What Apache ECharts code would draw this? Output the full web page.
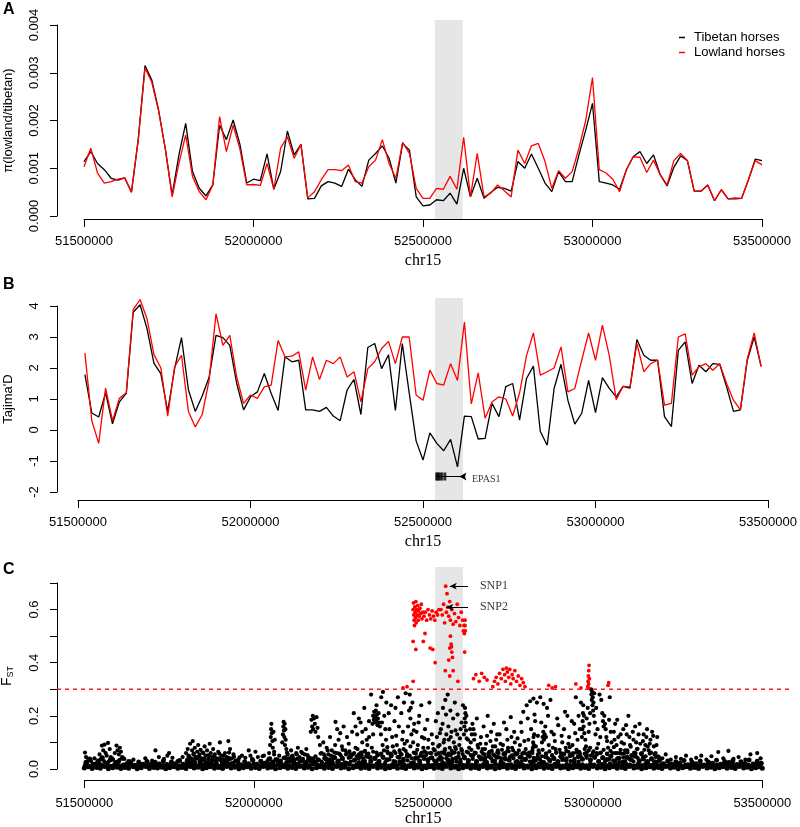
<!DOCTYPE html>
<html><head><meta charset="utf-8">
<script src="https://cdn.jsdelivr.net/npm/echarts@6/dist/echarts.min.js"></script>
<style>html,body{margin:0;padding:0;background:#fff}#c{width:800px;height:827px}</style>
</head><body><div id="c"></div>
<script>
// ---------------- DATA ----------------
const xTicks = [51500000, 52000000, 52500000, 53000000, 53500000];
const bandKb = [52535, 52617];
const bandKbB = [52535, 52616];

// Panel A: nucleotide diversity, window positions in kb
const piPosKb = [51500,51520,51540,51560,51580,51600,51620,51640,51660,51680,51700,51720,51740,51760,51780,51800,51820,51840,51860,51880,51900,51920,51940,51960,51980,52000,52020,52040,52060,52080,52100,52120,52140,52160,52180,52200,52220,52240,52260,52280,52300,52320,52340,52360,52380,52400,52420,52440,52460,52480,52500,52520,52540,52560,52580,52600,52620,52640,52660,52680,52700,52720,52740,52760,52780,52800,52820,52840,52860,52880,52900,52920,52940,52960,52980,53000,53020,53040,53060,53080,53100,53120,53140,53160,53180,53200,53220,53240,53260,53280,53300,53320,53340,53360,53380,53400,53420,53440,53460,53480,53500];
const piTibetan = [0.00114,0.00135,0.0011,0.00097,0.00079,0.00075,0.0008,0.0005,0.0016,0.00315,0.00285,0.00222,0.0014,0.00044,0.00128,0.00194,0.00093,0.00058,0.00042,0.00065,0.0019,0.0016,0.00201,0.0015,0.00069,0.00077,0.00074,0.0013,0.00056,0.00093,0.00178,0.00128,0.0015,0.00036,0.00037,0.00063,0.00072,0.00069,0.00062,0.00098,0.00076,0.00062,0.00117,0.00131,0.00147,0.00121,0.00069,0.00152,0.00138,0.0004,0.00021,0.00023,0.00034,0.00032,0.00048,0.00025,0.001,0.0004,0.00079,0.00037,0.00049,0.0006,0.00058,0.00052,0.00114,0.001,0.0013,0.001,0.00069,0.00051,0.00093,0.00072,0.00072,0.00128,0.0018,0.00236,0.00072,0.00069,0.00065,0.00056,0.00097,0.00124,0.00135,0.0011,0.00128,0.00086,0.00063,0.00102,0.00126,0.00116,0.00052,0.00052,0.00065,0.00032,0.00055,0.00036,0.00036,0.00037,0.00076,0.00119,0.00116];
const piLowland = [0.00103,0.00142,0.0009,0.00069,0.00072,0.00077,0.0008,0.0005,0.0016,0.0031,0.0028,0.0022,0.0014,0.0004,0.0011,0.0017,0.00083,0.00051,0.00034,0.00065,0.00208,0.00135,0.0019,0.0014,0.00065,0.00066,0.00064,0.0011,0.00056,0.00142,0.00166,0.00121,0.0015,0.00038,0.00051,0.00076,0.00097,0.00097,0.00095,0.00107,0.00072,0.00069,0.00103,0.00117,0.0016,0.0011,0.00079,0.00154,0.00131,0.00058,0.00037,0.00037,0.00058,0.00056,0.00083,0.00056,0.00165,0.0004,0.00131,0.0004,0.00048,0.00065,0.00053,0.0004,0.00138,0.0011,0.00147,0.00152,0.00114,0.00058,0.00095,0.00079,0.00093,0.00142,0.002,0.0029,0.00097,0.0009,0.00077,0.00051,0.00097,0.00124,0.00123,0.00091,0.00117,0.00086,0.00065,0.00116,0.00131,0.00116,0.00052,0.00052,0.00065,0.00032,0.00055,0.00036,0.00038,0.00037,0.00076,0.00116,0.00107];

// Panel B: Tajima's D
const tdPosKb = [51520,51540,51560,51580,51600,51620,51640,51660,51680,51700,51720,51740,51760,51780,51800,51820,51840,51860,51880,51900,51920,51940,51960,51980,52000,52020,52040,52060,52080,52100,52120,52140,52160,52180,52200,52220,52240,52260,52280,52300,52320,52340,52360,52380,52400,52420,52440,52460,52480,52500,52520,52540,52560,52580,52600,52620,52640,52660,52680,52700,52720,52740,52760,52780,52800,52820,52840,52860,52880,52900,52920,52940,52960,52980,53000,53020,53040,53060,53080,53100,53120,53140,53160,53180,53200,53220,53240,53260,53280,53300,53320,53340,53360,53380,53400,53420,53440,53460,53480];
const tdTibetan = [1.79,0.55,0.42,1.2,0.2,0.91,1.18,3.8,4.04,3.27,2.16,1.82,0.6,1.98,2.98,1.3,0.6,1.1,1.7,3.05,2.98,2.73,1.5,0.65,1.07,1.23,1.82,1.18,0.63,2.36,2.2,2.25,0.65,0.65,0.6,0.73,0.45,0.3,1.29,1.63,0.5,2.66,2.79,1.98,2.43,0.63,2.79,1.2,-0.35,-0.97,-0.09,-0.43,-0.67,-0.3,-1.19,0.45,0.43,-0.29,-0.27,0.86,0.43,1.4,1.5,0.32,1.66,2.06,-0.05,-0.49,1.34,2.12,0.96,0.19,0.54,1.6,0.56,1.69,1.34,1.07,1.41,1.35,2.92,2.41,2.25,2.25,0.43,0.11,2.57,2.84,1.5,2.09,1.88,2.14,2.12,1.39,0.6,0.65,2.25,3.0,2.06];
const tdLowland = [2.49,0.3,-0.43,1.35,0.3,1.02,1.2,3.88,4.21,3.59,2.44,2.01,0.45,2.04,2.41,0.6,0.1,0.5,1.6,3.75,2.73,3.05,1.71,0.86,1.13,1.02,1.39,1.45,2.89,2.36,2.38,2.52,1.29,2.36,1.63,2.25,2.14,2.36,1.71,1.88,0.91,1.98,2.2,2.63,2.86,2.14,3.0,3.0,1.13,0.96,1.93,1.5,1.45,2.14,1.6,3.48,0.84,1.84,0.38,0.9,1.07,1.0,0.45,1.2,2.4,3.13,1.77,1.88,2.0,2.68,1.23,1.34,2.25,3.13,2.25,3.38,2.4,0.98,1.41,1.39,2.79,1.88,2.14,2.25,0.8,0.86,3.0,3.1,1.77,2.04,2.14,1.93,2.14,1.5,0.96,0.65,2.3,3.13,2.04];

// EPAS1 gene model (kb)
const epasSpanKb = [52538, 52622];
const epasExonKb = [52539, 52542, 52546, 52551, 52556, 52564];
const epasArrowKb = [52622, 52606];
const epasLevel = -1.5;

// Panel C: FST per SNP  [position kb, FST x1000]
const fstBase = [[51500,4],[51511,8],[51523,2],[51536,6],[51547,3],[51560,9],[51571,1],[51584,5],[51597,7],[51608,2],[51620,6],[51631,3],[51645,8],[51656,1],[51668,5],[51681,9],[51692,2],[51705,6],[51716,4],[51729,7],[51740,1],[51752,5],[51765,8],[51776,3],[51788,6],[51800,2],[51813,9],[51824,4],[51836,7],[51849,1],[51860,5],[51871,8],[51884,3],[51897,6],[51908,2],[51920,9],[51933,4],[51944,7],[51956,1],[51969,5],[51980,8],[51992,3],[52005,6],[52016,2],[52028,9],[52041,4],[52052,7],[52064,1],[52077,5],[52088,8],[52100,3],[52113,6],[52124,2],[52136,9],[52149,4],[52160,7],[52172,1],[52185,5],[52196,8],[52208,3],[52221,6],[52232,2],[52244,9],[52257,4],[52268,7],[52280,1],[52293,5],[52304,8],[52316,3],[52329,6],[52340,2],[52352,9],[52365,4],[52376,7],[52388,1],[52401,5],[52412,8],[52424,3],[52437,6],[52448,2],[52460,9],[52473,4],[52484,7],[52496,1],[52509,5],[52520,8],[52532,3],[52545,6],[52556,2],[52568,9],[52581,4],[52592,7],[52604,1],[52617,5],[52628,8],[52640,3],[52653,6],[52664,2],[52676,9],[52689,4],[52700,7],[52712,1],[52725,5],[52736,8],[52748,3],[52761,6],[52772,2],[52784,9],[52797,4],[52808,7],[52820,1],[52833,5],[52844,8],[52856,3],[52869,6],[52880,2],[52892,9],[52905,4],[52916,7],[52928,1],[52941,5],[52952,8],[52964,3],[52977,6],[52988,2],[53000,9],[53013,4],[53024,7],[53036,1],[53049,5],[53060,8],[53072,3],[53085,6],[53096,2],[53108,9],[53121,4],[53132,7],[53144,1],[53157,5],[53168,8],[53180,3],[53193,6],[53204,2],[53216,9],[53229,4],[53240,7],[53252,1],[53265,5],[53276,8],[53288,3],[53301,6],[53312,2],[53324,9],[53337,4],[53348,7],[53360,1],[53373,5],[53384,8],[53396,3],[53409,6],[53420,2],[53432,9],[53445,4],[53456,7],[53468,1],[53481,5],[53492,8],[53500,3],
[51505,25],[51516,38],[51529,18],[51541,30],[51553,42],[51565,22],[51577,35],[51589,15],[51601,28],[51613,40],[51625,20],[51637,27],[51649,14],[51661,24],[51673,18],[51685,28],[51697,16],[51709,25],[51721,19],[51733,30],[51745,15],[51757,26],[51769,20],[51781,32],[51793,17],[51805,35],[51817,24],[51829,42],[51841,28],[51853,38],[51865,22],[51877,33],[51889,19],[51901,36],[51913,25],[51925,40],[51937,21],[51949,30],[51961,16],[51973,27],[51985,20],[51997,33],[52009,18],[52021,29],[52033,22],[52045,38],[52057,25],[52069,35],[52081,20],[52093,42],[52105,28],[52117,36],[52129,18],[52141,32],[52153,24],[52165,40],[52177,27],[52189,35],[52201,20],[52213,38],[52225,26],[52237,44],[52249,30],[52261,40],[52273,22],[52285,46],[52297,33],[52309,42],[52321,25],[52333,48],[52345,30],[52357,40],[52369,28],[52381,45],[52393,35],[52405,50],[52417,26],[52429,44],[52441,32],[52453,48],[52465,22],[52477,40],[52489,30],[52501,46],[52513,35],[52525,42],[52537,25],[52549,38],[52561,20],[52573,34],[52585,28],[52597,40],[52609,24],[52621,45],[52633,32],[52645,50],[52657,28],[52669,42],[52681,35],[52693,48],[52705,30],[52717,44],[52729,26],[52741,40],[52753,34],[52765,50],[52777,28],[52789,45],[52801,36],[52813,48],[52825,30],[52837,42],[52849,25],[52861,46],[52873,33],[52885,40],[52897,28],[52909,44],[52921,35],[52933,50],[52945,30],[52957,46],[52969,38],[52981,52],[52993,34],[53005,45],[53017,28],[53029,42],[53041,36],[53053,48],[53065,30],[53077,40],[53089,26],[53101,44],[53113,35],[53125,48],[53137,30],[53149,42],[53161,28],[53173,38],[53185,25],[53197,34],[53209,20],[53221,30],[53233,18],[53245,27],[53257,22],[53269,32],[53281,16],[53293,25],[53305,20],[53317,30],[53329,15],[53341,26],[53353,22],[53365,33],[53377,18],[53389,28],[53401,24],[53413,31],[53425,17],[53437,27],[53449,21],[53461,34],[53473,19],[53485,29],[53497,22],
[51503,14],[51514,11],[51526,17],[51533,12],[51545,19],[51556,13],[51568,16],[51579,10],[51591,18],[51602,12],[51615,15],[51627,11],[51638,17],[51650,13],[51661,10],[51674,16],[51686,12],[51697,18],[51709,11],[51721,15],[51733,13],[51744,17],[51756,10],[51768,14],[51779,12],[51791,18],[51803,15],[51814,11],[51826,19],[51838,13],[51849,16],[51861,12],[51873,18],[51884,14],[51896,11],[51908,17],[51919,13],[51931,19],[51943,12],[51954,15],[51966,10],[51978,16],[51989,13],[52001,18],[52013,11],[52024,15],[52036,14],[52048,19],[52059,12],[52071,17],[52083,13],[52094,16],[52106,11],[52118,18],[52129,14],[52141,12],[52153,17],[52164,13],[52176,19],[52188,15],[52199,11],[52211,16],[52223,13],[52234,18],[52246,12],[52258,17],[52269,14],[52281,19],[52293,11],[52304,16],[52316,13],[52328,18],[52339,15],[52351,12],[52363,19],[52374,14],[52386,17],[52398,11],[52409,16],[52421,13],[52433,19],[52444,15],[52456,12],[52468,18],[52479,14],[52491,17],[52503,11],[52514,16],[52526,13],[52538,19],[52549,14],[52561,12],[52573,18],[52584,15],[52596,11],[52608,17],[52619,13],[52631,19],[52643,14],[52654,16],[52666,12],[52678,18],[52689,15],[52701,11],[52713,17],[52724,13],[52736,19],[52748,14],[52759,16],[52771,12],[52783,18],[52794,15],[52806,11],[52818,17],[52829,13],[52841,19],[52853,14],[52864,16],[52876,12],[52888,18],[52899,15],[52911,11],[52923,17],[52934,13],[52946,19],[52958,14],[52969,16],[52981,12],[52993,18],[53004,15],[53016,11],[53028,17],[53039,13],[53051,19],[53063,14],[53074,16],[53086,12],[53098,18],[53109,15],[53121,11],[53133,17],[53144,13],[53156,19],[53168,14],[53179,16],[53191,12],[53203,17],[53214,11],[53226,15],[53238,13],[53249,16],[53261,10],[53273,14],[53284,12],[53296,17],[53308,11],[53319,15],[53331,13],[53343,16],[53354,10],[53366,14],[53378,12],[53389,17],[53401,11],[53413,15],[53424,13],[53436,16],[53448,10],[53459,14],[53471,12],[53483,17],[53494,11]];
const fstMid = [[51808,48],[51822,55],[51838,45],[51851,60],[51867,52],[51882,48],[51898,58],[51911,50],[51927,62],[51942,46],[51958,44],[51990,50],[52026,48],[52060,55],[52075,50],[52098,62],[52112,48],[52127,55],[52143,60],[52158,52],[52182,48],[52197,58],[52207,55],[52218,70],[52228,50],[52238,62],[52252,58],[52262,72],[52272,55],[52282,66],[52296,60],[52306,75],[52318,52],[52328,68],[52338,58],[52348,80],[52362,62],[52372,55],[52384,70],[52394,82],[52404,58],[52414,66],[52422,90],[52432,60],[52442,75],[52452,56],[52462,85],[52472,62],[52482,72],[52494,58],[52504,66],[52514,80],[52524,60],[52534,70],[52544,85],[52554,62],[52564,75],[52574,58],[52584,68],[52594,82],[52604,60],[52612,75],[52632,62],[52642,72],[52652,58],[52662,80],[52672,65],[52682,75],[52692,58],[52702,68],[52712,85],[52722,60],[52732,72],[52742,56],[52752,66],[52762,80],[52772,60],[52782,70],[52792,58],[52802,75],[52812,62],[52822,70],[52832,85],[52842,60],[52852,72],[52862,58],[52872,66],[52882,80],[52892,62],[52902,72],[52912,58],[52922,68],[52932,82],[52942,60],[52952,72],[52962,58],[52976,75],[52982,62],[52992,80],[53002,66],[53012,78],[53022,60],[53032,72],[53042,58],[53052,68],[53062,82],[53072,60],[53082,72],[53092,58],[53102,70],[53112,84],[53122,62],[53132,76],[53142,58],[53152,72],[53162,84],[53172,62],[53182,55],[53192,48],
[52250,30],[52256,52],[52262,38],[52268,25],[52274,60],[52280,42],[52286,28],[52292,55],[52298,35],[52304,48],[52310,26],[52316,62],[52322,40],[52328,30],[52334,56],[52340,44],[52346,28],[52352,65],[52358,38],[52364,50],[52370,30],[52376,58],[52382,42],[52388,26],[52394,66],[52400,36],[52406,52],[52412,30],[52418,60],[52424,45],[52430,28],[52436,55],[52442,38],[52448,68],[52454,32],[52460,50],[52466,40],[52472,26],[52478,58],[52484,44],[52490,30],[52496,62],[52502,38],[52508,52],[52514,28],[52520,60],[52526,42],[52532,32],[52538,55],[52544,36],[52550,48],[52556,26],[52562,58],[52568,40],[52574,30],[52580,52],[52586,38],[52592,62],[52598,28],[52604,46],[52610,34],[52616,56],[52622,40],[52628,65],[52634,30],[52640,52],[52646,38],[52652,62],[52658,28],[52664,48],[52670,36],[52676,58],[52682,42],[52688,26],[52694,60],[52700,40],[52706,55],[52712,30],[52718,62],[52724,44],[52730,28],[52736,56],[52742,36],[52748,68],[52754,32],[52760,50],[52766,40],[52772,26],[52778,58],[52784,44],[52790,30],[52796,62],[52802,38],[52808,52],[52814,28],[52820,64],[52826,42],[52832,32],[52838,55],[52844,36],[52850,48],[52856,26],[52862,58],[52868,40],[52874,30],[52880,52],[52886,38],[52892,62],[52898,28],[52904,46],[52910,34],[52916,56],[52922,40],[52928,65],[52934,30],[52940,52],[52946,38],[52952,62],[52958,28],[52964,48],[52970,36],[52976,58],[52982,42],[52988,70],[52994,50],[53000,60],[53006,42],[53012,55],[53018,30],[53024,62],[53030,44],[53036,28],[53042,56],[53048,36],[53054,48],[53060,32],[53066,60],[53072,40],[53078,26],[53084,58],[53090,44],[53096,30],[53102,62],[53108,38],[53114,52],[53120,28],[53126,60],[53132,42],[53138,32],[53144,55],[53150,36],[53156,48],[53162,26],[53168,58],[53174,40],[53180,30],[53186,45],[53192,28],[53198,35],
[51802,30],[51810,22],[51818,36],[51826,28],[51834,40],[51842,24],[51850,34],[51858,26],[51866,38],[51874,22],[51882,32],[51890,27],[51898,40],[51906,24],[51914,33],[51922,28],[51930,38],[51938,22],[51946,30],[51954,26],[52040,30],[52048,40],[52056,28],[52064,36],[52072,24],[52080,32],[52088,42],[52096,26],[52104,36],[52112,30],[52120,24],[52128,38],[52136,28],[52144,34],[52152,22],[52160,36],[52168,30],[52176,40],[52184,26],[52192,34],[52200,28],[52208,40],[52216,24],[52224,36],[52232,30],[52240,42],[52246,26],
[51508,24],[51518,32],[51538,26],[51548,36],[51558,30],[51572,28],[51582,40],[51592,26],[51604,34]];
const fstCloud = [[51502,62],[51505,45],[51512,38],[51520,30],[51530,40],[51545,55],[51552,88],[51556,70],[51560,92],[51563,60],[51566,50],[51570,98],[51575,75],[51578,45],[51585,35],[51590,60],[51595,88],[51598,70],[51602,55],[51605,80],[51608,65],[51612,45],[51618,38],
[51630,30],[51645,35],[51660,28],[51680,40],[51700,32],[51710,70],[51720,45],[51735,38],[51745,50],[51750,60],[51760,42],[51775,30],[51790,45],
[51800,60],[51805,75],[51808,50],[51812,95],[51815,40],[51818,70],[51820,105],[51823,58],[51826,80],[51830,45],[51833,65],[51836,90],[51840,55],[51843,72],[51846,40],[51850,62],[51855,85],[51858,50],[51862,70],[51866,38],[51870,95],[51873,60],[51877,45],[51880,75],[51885,55],[51890,40],[51895,65],[51900,100],[51905,50],[51910,35],[51915,60],[51920,45],[51925,105],[51930,75],[51935,40],[51940,55],[51945,30],
[51955,35],[51965,50],[51975,42],[51985,70],[51995,38],[52005,65],[52012,45],[52020,30],[52030,50],
[52045,60],[52048,90],[52050,120],[52051,150],[52052,170],[52053,135],[52055,105],[52056,80],[52058,140],[52060,65],[52062,110],
[52084,100],[52086,130],[52087,160],[52088,177],[52089,145],[52090,120],[52091,170],[52092,90],[52093,150],[52094,110],[52096,75],
[52100,55],[52105,40],[52110,70],[52115,50],[52120,35],[52125,60],[52130,80],[52135,45],[52140,65],[52145,38],[52150,55],[52155,75],[52160,48],[52165,30],
[52168,140],[52170,185],[52172,160],[52174,200],[52175,150],[52177,190],[52180,170],[52182,140],[52185,195],[52188,155],[52190,120],[52195,90],
[52200,60],[52205,100],[52210,45],[52215,80],[52220,55],[52225,120],[52230,70],[52235,40],[52240,90],[52245,60],
[52241,177],[52246,150],[52250,110],[52255,135],[52260,85],[52265,160],[52270,70],[52275,120],[52280,95],[52285,55],[52290,140],
[52295,210],[52300,80],[52305,130],[52310,55],[52315,175],[52320,100],[52325,65],[52330,150],[52335,90],[52340,120],[52345,45],
[52350,170],[52352,200],[52354,185],[52355,215],[52357,175],[52358,195],[52360,220],[52361,180],[52363,205],[52365,165],[52366,190],[52368,210],[52370,175],[52372,160],[52346,280],[52376,270],[52381,290],[52391,250],
[52375,130],[52380,90],[52385,200],[52390,110],[52395,60],[52400,150],[52405,240],[52410,85],[52415,180],[52420,125],[52425,270],[52430,70],[52435,210],[52440,140],[52445,95],[52448,285],
[52455,160],[52458,220],[52460,280],[52462,190],[52465,130],[52468,250],[52470,100],[52473,170],[52476,60],[52480,140],[52484,90],[52488,200],[52492,50],[52496,120],
[52500,80],[52505,150],[52510,60],[52515,110],[52520,40],[52525,130],[52530,75],
[52540,120],[52545,60],[52548,90],[52552,150],[52555,40],[52558,230],[52560,100],[52563,70],[52565,260],[52568,130],[52570,50],[52572,280],[52575,110],[52578,80],[52580,220],[52583,140],[52586,60],[52590,100],[52593,250],[52596,75],[52600,130],[52603,45],[52606,90],[52610,150],[52614,70],
[52620,130],[52621,160],[52622,190],[52623,230],[52624,210],[52625,175],[52626,145],[52627,200],[52628,115],
[52635,80],[52640,100],[52643,130],[52645,170],[52648,150],[52650,110],[52655,60],[52660,90],[52665,45],[52670,120],[52675,75],[52680,55],[52685,95],[52690,200],[52695,65],[52700,140],[52705,85],[52710,50],[52715,110],[52720,70],[52725,130],[52730,40],[52735,90],[52740,60],[52745,150],[52750,80],[52755,45],[52760,120],[52765,70],[52770,100],[52775,55],
[52795,215],[52805,240],[52815,255],[52825,265],[52835,250],[52845,270],[52855,245],[52865,230],[52875,260],[52822,60],[52823,80],[52824,100],[52825,120],[52826,90],[52827,130],[52850,100],[52852,120],[52854,140],[52856,110],[52858,130],[52785,90],[52790,140],[52800,60],[52810,110],[52830,180],[52840,70],[52860,160],[52870,90],[52880,50],[52885,130],[52890,75],[52895,190],
[52968,120],[52969,150],[52970,180],[52971,210],[52972,240],[52973,160],[52974,200],[52975,135],[52995,300],[52996,280],[52997,260],[52998,290],[52999,240],[53000,270],[53001,220],[53002,250],[53003,200],[53004,285],[52990,170],[52985,230],[52905,60],[52910,100],[52915,150],[52920,80],[52925,200],[52930,120],[52935,55],[52940,90],[52945,170],[52950,270],[52955,110],[52960,65],[52965,250],[52980,85],[53008,130],[53012,60],[53016,95],
[53020,280],[53025,260],[53030,180],[53032,160],[53034,200],[53036,170],[53038,150],[53040,120],[53045,80],[53050,270],[53055,100],[53058,60],
[53062,140],[53066,170],[53070,90],[53075,120],[53080,60],[53085,100],[53090,150],[53095,70],[53100,130],[53105,200],[53110,90],[53115,50],[53120,110],[53125,160],[53130,75],[53135,130],[53140,95],
[53145,60],[53150,130],[53155,90],[53160,150],[53165,70],[53170,110],[53175,140],[53180,85],[53185,60],[53190,120],[53195,45],
[53205,40],[53215,55],[53230,35],[53245,45],[53260,38],[53275,50],[53290,35],[53305,42],[53320,50],[53335,35],[53350,48],[53370,64],[53385,40],[53400,68],[53415,38],[53430,45],[53450,35],[53465,55],[53485,60],[53495,40],
[52300,160],[52310,190],[52320,140],[52326,230],[52333,110],[52340,180],[52352,130],[52362,240],[52378,175],[52388,150],[52398,210],[52408,120],[52418,230],[52428,160],[52438,110],[52443,250],[52452,105],[52463,230],[52472,145],[52486,175],[52494,240],[52503,115],[52512,185],[52518,250],[52528,95],[52537,180],[52543,210],[52549,135],[52557,170],[52562,110],[52567,205],[52574,160],[52581,120],[52588,190],[52595,145],[52601,205],[52608,115],[52613,175],[52617,240],[52632,110],[52638,150],[52652,130],[52658,190],[52668,95],[52678,160],[52688,125],[52698,105],[52708,170],[52718,130],[52728,95],[52738,175],[52748,110],[52758,195],[52768,140],[52778,115],[52788,175],[52798,105],[52808,190],[52818,150],[52828,205],[52838,125],[52848,175],[52862,120],[52868,200],[52878,140],[52888,105],[52898,165],[52908,125],[52918,215],[52928,95],[52938,180],[52948,135],[52958,200],[52962,150],[52978,110],[52982,190],[52988,140],[52992,210],[53006,175],[53010,230],[53014,150],[53022,120],[53028,210],[53042,105],[53048,185],[53053,140],[53064,110],[53072,185],[53082,130],[53092,95],[53098,165],[53108,120],[53118,140],[53128,100],[53138,170],[53148,105],[53158,120],[53168,95],[53178,125],[53188,90]];
const fstHigh = [[52440,305],[52452,310],
[52470,600],[52471,625],[52472,580],[52473,560],[52474,540],[52475,610],[52476,590],[52477,570],[52478,630],[52479,550],[52480,600],[52482,580],[52483,615],[52485,560],[52486,595],[52488,575],[52490,605],[52492,585],[52494,620],[52496,565],[52498,590],[52470,480],[52478,450],[52470,330],[52500,480],
[52502,575],[52506,590],[52510,560],[52514,600],[52518,580],[52522,565],[52526,595],[52530,575],[52534,560],[52538,590],[52542,580],[52546,600],[52505,510],[52520,455],[52528,450],[52535,400],
[52566,688],[52570,660],[52572,609],[52552,600],[52556,580],[52560,620],[52563,550],[52568,590],[52575,575],[52578,630],[52580,560],[52584,600],[52588,545],[52592,585],[52596,555],[52600,620],[52604,570],[52608,540],[52612,590],[52616,560],[52618,520],[52620,540],[52621,510],[52580,500],[52582,470],[52584,440],[52586,420],[52583,460],[52578,455],[52565,370],[52578,350],[52588,370],[52602,330],[52622,440],[52575,410],[52623,560],[52623,540],[52624,520],
[52648,340],[52655,355],[52665,330],[52672,360],[52680,345],[52688,335],
[52705,310],[52710,330],[52715,345],[52720,320],[52725,360],[52730,340],[52735,375],[52740,355],[52742,330],[52745,380],[52748,365],[52752,345],[52755,375],[52758,320],[52762,355],[52765,340],[52770,370],[52775,330],[52780,350],[52785,315],[52790,340],[52795,325],[52800,310],
[52870,315],[52880,305],[52890,310],
[52950,320],[52965,305],[52985,310],[52986,330],[52987,350],[52988,370],[52989,390],[52990,340],[52988,320],[52987,305],
[53045,315],[53047,325]];
const fstThreshold = 0.3;
const snpLabels = [{name:'SNP1', fromKb:52632, toKb:52578, fst:0.688, textKb:52667},
                   {name:'SNP2', fromKb:52632, toKb:52568, fst:0.609, textKb:52667}];

// ---------------- LAYOUT ----------------
const SANS = "'Liberation Sans', Arial, sans-serif";
const SERIF = "'Liberation Serif', 'Times New Roman', serif";
const PL = 57, PR = 789;
const LAY = {
  A: {x0:84, x1:762, top:20, bot:219, yv0:0, yp0:216, yv1:0.004, yp1:25, yi:0.001, lm:16, ng:34},
  B: {x0:78, x1:768, top:298, bot:500, yv0:-2, yp0:492, yv1:4, yp1:306, yi:1, lm:16, ng:34},
  C: {x0:84.3, x1:762.3, top:567, bot:780, yv0:0, yp0:769, yv1:0.7, yp1:583, yi:0.1, lm:17, ng:29}
};
const grids = [], xAxes = [], yAxes = [];
function addPanel(L, yFmt, yName) {
  const base = grids.length;
  const s = (xTicks[4] - xTicks[0]) / (L.x1 - L.x0);
  const t = (L.yv1 - L.yv0) / (L.yp0 - L.yp1);
  grids.push({left: PL, width: PR - PL, top: L.top, height: L.bot - L.top, outerBoundsMode: 'none'});
  xAxes.push({type: 'value', gridIndex: base, show: false, min: xTicks[0] - (L.x0 - PL) * s, max: xTicks[4] + (PR - L.x1) * s});
  yAxes.push({type: 'value', gridIndex: base, show: false, min: L.yv0 - (L.bot - L.yp0) * t, max: L.yv1 + (L.yp1 - L.top) * t});
  grids.push({left: L.x0, width: L.x1 - L.x0, top: L.bot - 10, height: 10, outerBoundsMode: 'none'});
  xAxes.push({type: 'value', gridIndex: base + 1, min: xTicks[0], max: xTicks[4], interval: 500000,
    axisLine: {show: true, onZero: false, lineStyle: {color: '#000', width: 1}},
    axisTick: {show: true, length: 8, lineStyle: {color: '#000', width: 1}},
    axisLabel: {margin: L.lm, fontSize: 13, color: '#000', fontFamily: SANS, formatter: v => v.toFixed(0)},
    splitLine: {show: false},
    name: 'chr15', nameLocation: 'middle', nameGap: L.ng,
    nameTextStyle: {fontFamily: SERIF, fontSize: 16, color: '#000'}});
  yAxes.push({type: 'value', gridIndex: base + 1, show: false, min: 0, max: 1});
  grids.push({left: PL, width: 10, top: L.yp1, height: L.yp0 - L.yp1, outerBoundsMode: 'none'});
  xAxes.push({type: 'value', gridIndex: base + 2, show: false, min: 0, max: 1});
  yAxes.push({type: 'value', gridIndex: base + 2, min: L.yv0, max: L.yv1, interval: L.yi,
    axisLine: {show: true, onZero: false, lineStyle: {color: '#000', width: 1}},
    axisTick: {show: true, length: 7, lineStyle: {color: '#000', width: 1}},
    axisLabel: {rotate: 90, margin: 16, fontSize: 13, color: '#000', fontFamily: SANS, formatter: yFmt},
    splitLine: {show: false},
    name: yName, nameLocation: 'middle', nameGap: 42, nameRotate: 90,
    nameTextStyle: {fontFamily: SANS, fontSize: 13, color: '#000',
      rich: {f: {fontFamily: SANS, fontSize: 14, color: '#000'}, s: {fontFamily: SANS, fontSize: 9, color: '#000', padding: [7, 0, 0, 0]}}}});
  return base;
}
const gA = addPanel(LAY.A, v => v.toFixed(3), 'π(lowland/tibetan)');
const gB = addPanel(LAY.B, v => String(Math.round(v)), "Tajima'D");
const gC = addPanel(LAY.C, v => (Math.round(v * 10) % 2 === 0 ? v.toFixed(1) : ''), '{f|F}{s|ST}');

const kb = v => v * 1000;
const series = [];
function band(g, range) {
  series.push({type: 'line', xAxisIndex: g, yAxisIndex: g, data: [], z: 1, silent: true,
    markArea: {silent: true, itemStyle: {color: '#e6e6e6'}, data: [[{xAxis: kb(range[0])}, {xAxis: kb(range[1])}]]}});
}
band(gA, bandKb); band(gB, bandKbB); band(gC, bandKb);

series.push({type: 'line', name: 'Tibetan horses', xAxisIndex: gA, yAxisIndex: gA, symbol: 'none', z: 3,
  data: piPosKb.map((p, i) => [kb(p), piTibetan[i]]), lineStyle: {color: '#000', width: 1.3}, itemStyle: {color: '#000'}});
series.push({type: 'line', name: 'Lowland horses', xAxisIndex: gA, yAxisIndex: gA, symbol: 'none', z: 4,
  data: piPosKb.map((p, i) => [kb(p), piLowland[i]]), lineStyle: {color: '#f00', width: 1.3}, itemStyle: {color: '#f00'}});
series.push({type: 'line', name: 'tdT', xAxisIndex: gB, yAxisIndex: gB, symbol: 'none', z: 3,
  data: tdPosKb.map((p, i) => [kb(p), tdTibetan[i]]), lineStyle: {color: '#000', width: 1.3}});
series.push({type: 'line', name: 'tdL', xAxisIndex: gB, yAxisIndex: gB, symbol: 'none', z: 4,
  data: tdPosKb.map((p, i) => [kb(p), tdLowland[i]]), lineStyle: {color: '#f00', width: 1.3}});
// EPAS1 gene
series.push({type: 'line', name: 'epas', xAxisIndex: gB, yAxisIndex: gB, symbol: 'none', z: 5, silent: true,
  data: epasSpanKb.map(p => [kb(p), epasLevel]), lineStyle: {color: '#000', width: 1.2},
  markLine: {silent: true, symbol: ['none', 'arrow'], symbolSize: [6, 7], lineStyle: {color: '#000', width: 1.2, type: 'solid'}, label: {show: false},
    data: [[{coord: [kb(epasArrowKb[0]), epasLevel]}, {coord: [kb(epasArrowKb[1]), epasLevel]}]]}});
series.push({type: 'scatter', name: 'exons', xAxisIndex: gB, yAxisIndex: gB, symbol: 'rect', symbolSize: [2.4, 8], z: 5, silent: true,
  data: epasExonKb.map(p => [kb(p), epasLevel]), itemStyle: {color: '#000'}});
series.push({type: 'scatter', name: 'epasLabel', xAxisIndex: gB, yAxisIndex: gB, symbolSize: 0, z: 5, silent: true,
  data: [[kb(52642), epasLevel - 0.08]],
  label: {show: true, position: 'right', distance: 0, formatter: 'EPAS1', fontFamily: SERIF, fontSize: 10, color: '#000'}});
// FST
const fstPt = a => [kb(a[0]), a[1] / 1000];
series.push({type: 'scatter', name: 'fstBase', xAxisIndex: gC, yAxisIndex: gC, symbolSize: 5, z: 3, silent: true,
  data: fstBase.map(fstPt), itemStyle: {color: '#000', opacity: 1}});
series.push({type: 'scatter', name: 'fstLow', xAxisIndex: gC, yAxisIndex: gC, symbolSize: 4.2, z: 3, silent: true,
  data: fstMid.concat(fstCloud).map(fstPt), itemStyle: {color: '#000', opacity: 1}});
// threshold line spans the whole plot region of panel C
const cX = xAxes[gC];
series.push({type: 'line', name: 'threshold', xAxisIndex: gC, yAxisIndex: gC, z: 5, silent: true, symbol: 'none',
  data: [[cX.min, fstThreshold], [cX.max, fstThreshold]],
  itemStyle: {color: '#ff0000'}, lineStyle: {color: '#ff1a1a', width: 1.6, type: [4, 4]}});
series.push({type: 'scatter', name: 'fstHigh', xAxisIndex: gC, yAxisIndex: gC, symbolSize: 3.8, z: 4, silent: true,
  data: fstHigh.map(fstPt), itemStyle: {color: '#f00', opacity: 1}});
series.push({type: 'scatter', name: 'snp', xAxisIndex: gC, yAxisIndex: gC, symbolSize: 0, z: 6, silent: true,
  data: snpLabels.map(d => [kb(d.textKb), d.fst, d.name]),
  label: {show: true, position: 'right', distance: 0, formatter: p => p.data[2], fontFamily: SERIF, fontSize: 12, color: '#000'},
  markLine: {silent: true, symbol: ['none', 'arrow'], symbolSize: [5, 7], label: {show: false}, lineStyle: {color: '#000', width: 1, type: 'solid'},
    data: snpLabels.map(d => [{coord: [kb(d.fromKb), d.fst]}, {coord: [kb(d.toKb), d.fst]}])}});

const chart = echarts.init(document.getElementById('c'));
chart.setOption({
  animation: false,
  backgroundColor: '#fff',
  grid: grids, xAxis: xAxes, yAxis: yAxes, series: series,
  legend: {data: ['Tibetan horses', 'Lowland horses'], orient: 'vertical', left: 674, top: 26, icon: 'rect',
    itemWidth: 6, itemHeight: 1.5, itemGap: 2, selectedMode: false,
    textStyle: {fontFamily: SANS, fontSize: 13, color: '#000', padding: [0, 0, 0, 4]}},
  graphic: [
    {type: 'text', left: 3, top: 2, style: {text: 'A', font: "bold 16px 'Liberation Sans', Arial", fill: '#000'}},
    {type: 'text', left: 3, top: 277, style: {text: 'B', font: "bold 16px 'Liberation Sans', Arial", fill: '#000'}},
    {type: 'text', left: 3, top: 562, style: {text: 'C', font: "bold 16px 'Liberation Sans', Arial", fill: '#000'}}
  ]
});
</script></body></html>
